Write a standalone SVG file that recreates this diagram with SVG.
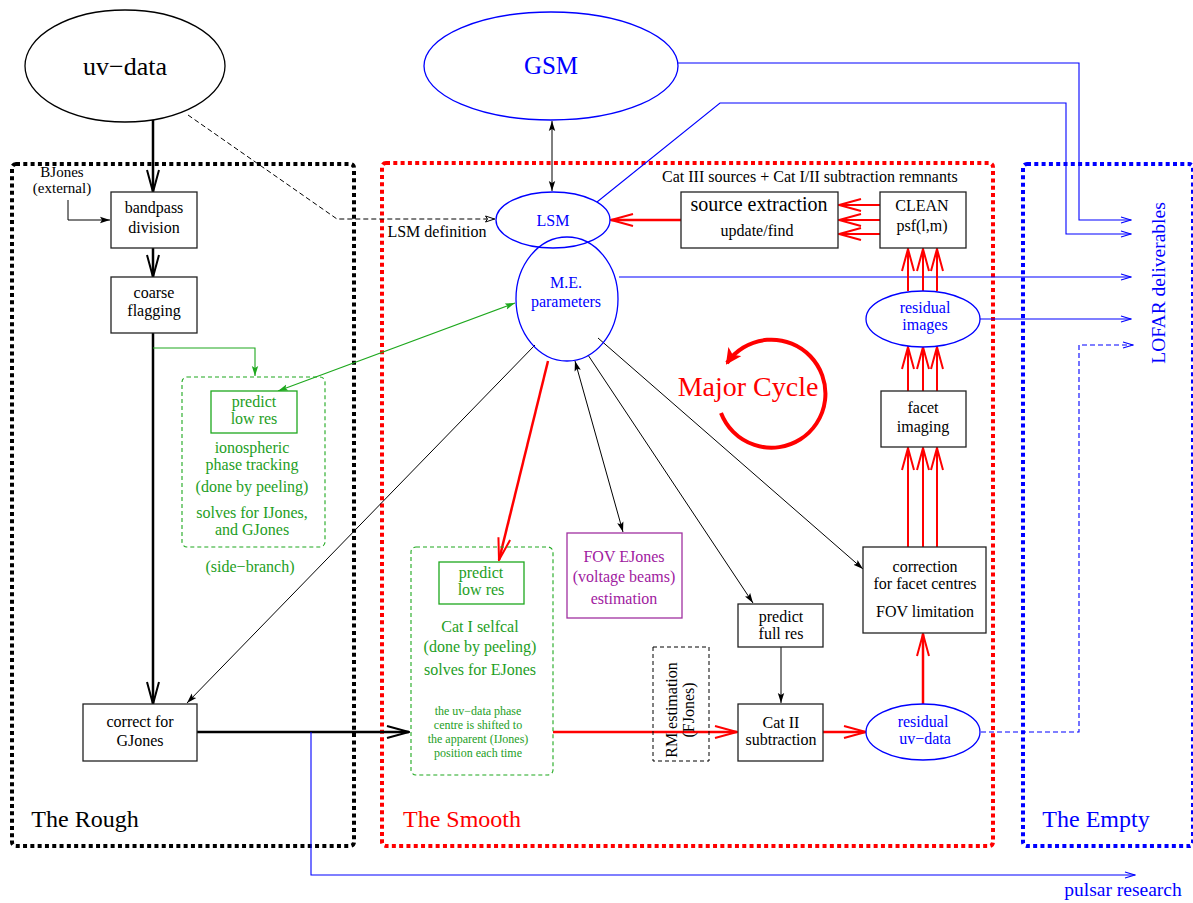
<svg xmlns="http://www.w3.org/2000/svg" width="1193" height="903" viewBox="0 0 1193 903">
<defs>
<style>
text{font-family:"Liberation Serif","Times New Roman",serif;font-size:16px;text-anchor:middle;}
.k{fill:#000}
.b{fill:#0000ff}
.r{fill:#ff0000}
.g{fill:#1e9e1e}
.m{fill:#a020a0}
.box{fill:#fff;stroke:#222;stroke-width:1.3}
.ell{fill:#fff;stroke:#0000ff;stroke-width:1.3}
.ellk{fill:#fff;stroke:#000;stroke-width:1.3}
.thick{fill:none;stroke:#000;stroke-width:2.5}
.red{fill:none;stroke:#ff0000;stroke-width:2.5}
.thin{fill:none;stroke:#000;stroke-width:1}
.blu{fill:none;stroke:#0000ff;stroke-width:1.1}
.grn{fill:none;stroke:#1ea81e;stroke-width:1.1}
</style>
<marker id="vk" viewBox="0 0 24 14" refX="23" refY="7" markerWidth="24" markerHeight="14" markerUnits="userSpaceOnUse" orient="auto"><path d="M1,1 L23,7 L1,13" fill="none" stroke="#000" stroke-width="2"/></marker>
<marker id="vr" viewBox="0 0 24 14" refX="23" refY="7" markerWidth="24" markerHeight="14" markerUnits="userSpaceOnUse" orient="auto"><path d="M1,1 L23,7 L1,13" fill="none" stroke="#ff0000" stroke-width="2"/></marker>
<marker id="tk" viewBox="0 0 10 8" refX="10" refY="4" markerWidth="10" markerHeight="8" markerUnits="userSpaceOnUse" orient="auto-start-reverse"><path d="M0,0.8 L10,4 L0,7.2 L2,4 z" fill="#000"/></marker>
<marker id="tg" viewBox="0 0 10 8" refX="10" refY="4" markerWidth="10" markerHeight="8" markerUnits="userSpaceOnUse" orient="auto-start-reverse"><path d="M0,0.8 L10,4 L0,7.2 L2,4 z" fill="#1ea81e"/></marker>
<marker id="tb" viewBox="0 0 12 8" refX="11" refY="4" markerWidth="12" markerHeight="8" markerUnits="userSpaceOnUse" orient="auto"><path d="M1,1 L11,4 L1,7" fill="none" stroke="#0000ff" stroke-width="1.2"/></marker>
<marker id="tkd" viewBox="0 0 10 8" refX="10" refY="4" markerWidth="10" markerHeight="8" markerUnits="userSpaceOnUse" orient="auto"><path d="M0.5,1 L9.5,4 L0.5,7 L2.5,4 z" fill="#fff" stroke="#000" stroke-width="1"/></marker>
<marker id="cyc" viewBox="0 0 16 16" refX="14" refY="8" markerWidth="16" markerHeight="16" markerUnits="userSpaceOnUse" orient="auto"><path d="M0,0 L16,8 L0,16 L4,8 z" fill="#ff0000"/></marker>
</defs>
<rect width="1193" height="903" fill="#fff"/>

<g id="containers">
<rect x="12" y="164" width="342" height="682" rx="4" fill="none" stroke="#000" stroke-width="4" stroke-dasharray="4 3.3"/>
<rect x="382" y="163" width="611" height="683" rx="4" fill="none" stroke="#ff0000" stroke-width="4" stroke-dasharray="4 3.3"/>
<rect x="1023" y="164" width="170" height="682" rx="4" fill="none" stroke="#0000ff" stroke-width="4" stroke-dasharray="4 3.3"/>
<text x="85" y="827" class="k" style="font-size:24px">The Rough</text>
<text x="462" y="827" class="r" style="font-size:24px">The Smooth</text>
<text x="1096" y="827" class="b" style="font-size:24px">The Empty</text>
</g>

<g id="connectors">
<!-- left column -->
<path class="thick" d="M153,120 V192" marker-end="url(#vk)"/>
<path class="thin" d="M68,200 V220 H110" marker-end="url(#tk)"/>
<path class="thick" d="M153,248 V277" marker-end="url(#vk)"/>
<path class="thick" d="M153,333 V704" marker-end="url(#vk)"/>
<path class="grn" d="M153,348 H255 V376" marker-end="url(#tg)"/>
<path class="grn" d="M278,391 L515,303" marker-start="url(#tg)" marker-end="url(#tg)"/>
<path class="thin" d="M188,115 L337,219 H495" stroke-dasharray="5 3" marker-end="url(#tkd)"/>
<path class="thick" d="M197,732 H409" marker-end="url(#vk)"/>
<path class="blu" d="M311,732 V875 H1135" marker-end="url(#tb)"/>
<!-- GSM / LSM -->
<path class="thin" d="M552,121 V191" marker-start="url(#tk)" marker-end="url(#tk)"/>
<path class="blu" d="M678,63 H1079 V220 H1131" marker-end="url(#tb)"/>
<path class="blu" d="M597,202 L720,103 H1066 V234 H1131" marker-end="url(#tb)"/>
<path class="blu" d="M619,277 H1131" marker-end="url(#tb)"/>
<path class="blu" d="M980,319 H1131" marker-end="url(#tb)"/>
<path class="blu" d="M981,732 H1079 V345 H1133" stroke-dasharray="5 3" marker-end="url(#tb)"/>
<!-- major cycle red -->
<path class="red" d="M681,220 H611" marker-end="url(#vr)"/>
<path class="red" d="M880,205 H839" marker-end="url(#vr)" style="stroke-width:2"/>
<path class="red" d="M880,220 H839" marker-end="url(#vr)" style="stroke-width:2"/>
<path class="red" d="M880,234 H839" marker-end="url(#vr)" style="stroke-width:2"/>
<path class="red" d="M908,291 V249" marker-end="url(#vr)" style="stroke-width:2"/>
<path class="red" d="M923,291 V249" marker-end="url(#vr)" style="stroke-width:2"/>
<path class="red" d="M937,291 V249" marker-end="url(#vr)" style="stroke-width:2"/>
<path class="red" d="M908,391 V347" marker-end="url(#vr)" style="stroke-width:2"/>
<path class="red" d="M923,391 V347" marker-end="url(#vr)" style="stroke-width:2"/>
<path class="red" d="M937,391 V347" marker-end="url(#vr)" style="stroke-width:2"/>
<path class="red" d="M908,547 V448" marker-end="url(#vr)" style="stroke-width:2"/>
<path class="red" d="M923,547 V448" marker-end="url(#vr)" style="stroke-width:2"/>
<path class="red" d="M937,547 V448" marker-end="url(#vr)" style="stroke-width:2"/>
<path class="red" d="M923,704 V634" marker-end="url(#vr)"/>
<path class="red" d="M553,732 H737" marker-end="url(#vr)"/>
<path class="red" d="M823,732 H866" marker-end="url(#vr)"/>
<path class="red" d="M548,361 L499,560" marker-end="url(#vr)"/>
<!-- M.E. thin black -->
<path class="thin" d="M575,361 L623,532" marker-start="url(#tk)" marker-end="url(#tk)"/>
<path class="thin" d="M588,355 L753,603" marker-end="url(#tk)"/>
<path class="thin" d="M598,338 L863,569" marker-end="url(#tk)"/>
<path class="thin" d="M535,345 L187,703" marker-end="url(#tk)"/>
<path class="thin" d="M781,647 V703" marker-end="url(#tk)"/>
<!-- cycle arrow -->
<path d="M721,413 A54,54 0 1 0 727,363" fill="none" stroke="#ff0000" stroke-width="4" marker-end="url(#cyc)"/>
</g>

<g id="uv-data">
<ellipse class="ellk" cx="125" cy="66" rx="100" ry="56"/>
<text x="125" y="75" class="k" style="font-size:26px">uv−data</text>
</g>
<g id="gsm">
<ellipse class="ell" cx="551" cy="66" rx="127" ry="54"/>
<text x="551" y="74" class="b" style="font-size:25px">GSM</text>
</g>
<g id="bjones">
<text x="62" y="177" class="k" style="font-size:15px">BJones</text>
<text x="62" y="193" class="k" style="font-size:15px">(external)</text>
</g>
<g id="bandpass">
<rect class="box" x="111" y="192" width="86" height="56"/>
<text x="154" y="213" class="k">bandpass</text>
<text x="154" y="233" class="k">division</text>
</g>
<g id="coarse">
<rect class="box" x="111" y="277" width="86" height="56"/>
<text x="154" y="298" class="k">coarse</text>
<text x="154" y="316" class="k">flagging</text>
</g>
<g id="sidebranch">
<rect x="182" y="377" width="143" height="170" rx="5" fill="none" stroke="#1ea81e" stroke-width="1.1" stroke-dasharray="4 3"/>
<rect x="211" y="391" width="86" height="42" fill="#fff" stroke="#1ea81e" stroke-width="1.3"/>
<text x="254" y="407" class="g">predict</text>
<text x="254" y="424" class="g">low res</text>
<text x="252" y="453" class="g">ionospheric</text>
<text x="252" y="470" class="g">phase tracking</text>
<text x="252" y="492" class="g">(done by peeling)</text>
<text x="252" y="518" class="g">solves for IJones,</text>
<text x="252" y="535" class="g">and GJones</text>
<text x="250" y="572" class="g">(side−branch)</text>
</g>
<g id="correct-gjones">
<rect class="box" x="83" y="704" width="114" height="57"/>
<text x="140" y="727" class="k">correct for</text>
<text x="140" y="746" class="k">GJones</text>
</g>
<g id="lsm">
<ellipse class="ell" cx="553" cy="220" rx="57" ry="28"/>
<text x="553" y="226" class="b">LSM</text>
<text x="437" y="237" class="k">LSM definition</text>
</g>
<g id="me-params">
<ellipse cx="567" cy="299" rx="51" ry="62" fill="none" stroke="#0000ff" stroke-width="1.3"/>
<text x="566" y="288" class="b">M.E.</text>
<text x="566" y="307" class="b">parameters</text>
</g>
<g id="source-extraction">
<text x="662" y="182" class="k" style="text-anchor:start">Cat III sources + Cat I/II subtraction remnants</text>
<rect class="box" x="681" y="192" width="157" height="56"/>
<text x="759" y="211" class="k" style="font-size:20px">source extraction</text>
<text x="757" y="236" class="k">update/find</text>
</g>
<g id="clean">
<rect class="box" x="880" y="192" width="86" height="56"/>
<text x="922" y="211" class="k">CLEAN</text>
<text x="922" y="231" class="k">psf(l,m)</text>
</g>
<g id="residual-images">
<ellipse class="ell" cx="923" cy="319" rx="57" ry="28"/>
<text x="925" y="313" class="b">residual</text>
<text x="925" y="330" class="b">images</text>
</g>
<g id="major-cycle">
<text x="748" y="396" class="r" style="font-size:28px">Major Cycle</text>
</g>
<g id="facet-imaging">
<rect class="box" x="881" y="391" width="85" height="56"/>
<text x="923" y="413" class="k">facet</text>
<text x="923" y="432" class="k">imaging</text>
</g>
<g id="cat1">
<rect x="411" y="547" width="142" height="228" rx="5" fill="none" stroke="#1ea81e" stroke-width="1.1" stroke-dasharray="4 3"/>
<rect x="439" y="562" width="85" height="42" fill="#fff" stroke="#1ea81e" stroke-width="1.3"/>
<text x="481" y="578" class="g">predict</text>
<text x="481" y="595" class="g">low res</text>
<text x="480" y="632" class="g">Cat I selfcal</text>
<text x="480" y="652" class="g">(done by peeling)</text>
<text x="480" y="675" class="g">solves for EJones</text>
<text x="478" y="715" class="g" style="font-size:12px">the uv−data phase</text>
<text x="478" y="729" class="g" style="font-size:12px">centre is shifted to</text>
<text x="478" y="743" class="g" style="font-size:12px">the apparent (IJones)</text>
<text x="478" y="757" class="g" style="font-size:12px">position each time</text>
</g>
<g id="fov-ejones">
<rect x="567" y="533" width="115" height="85" fill="#fff" stroke="#a030a0" stroke-width="1.3"/>
<text x="624" y="562" class="m">FOV EJones</text>
<text x="624" y="582" class="m">(voltage beams)</text>
<text x="624" y="604" class="m">estimation</text>
</g>
<g id="rm-estimation">
<rect x="653" y="647" width="56" height="114" fill="none" stroke="#000" stroke-width="1" stroke-dasharray="4 3"/>
<text transform="translate(677,710) rotate(-90)" class="k">RM estimation</text>
<text transform="translate(694,710) rotate(-90)" class="k">(FJones)</text>
</g>
<g id="predict-full">
<rect class="box" x="738" y="604" width="85" height="43"/>
<text x="781" y="622" class="k">predict</text>
<text x="781" y="639" class="k">full res</text>
</g>
<g id="cat2">
<rect class="box" x="738" y="704" width="85" height="57"/>
<text x="781" y="728" class="k">Cat II</text>
<text x="781" y="745" class="k">subtraction</text>
</g>
<g id="residual-uv">
<ellipse class="ell" cx="923" cy="732" rx="57" ry="28"/>
<text x="923" y="727" class="b">residual</text>
<text x="925" y="744" class="b">uv−data</text>
</g>
<g id="correction">
<rect class="box" x="863" y="547" width="123" height="86"/>
<text x="925" y="572" class="k">correction</text>
<text x="925" y="589" class="k">for facet centres</text>
<text x="925" y="617" class="k">FOV limitation</text>
</g>
<g id="lofar">
<text transform="translate(1165,283) rotate(-90)" class="b" style="font-size:19.5px">LOFAR deliverables</text>
<text x="1123" y="896" class="b" style="font-size:19.5px">pulsar research</text>
</g>
</svg>
